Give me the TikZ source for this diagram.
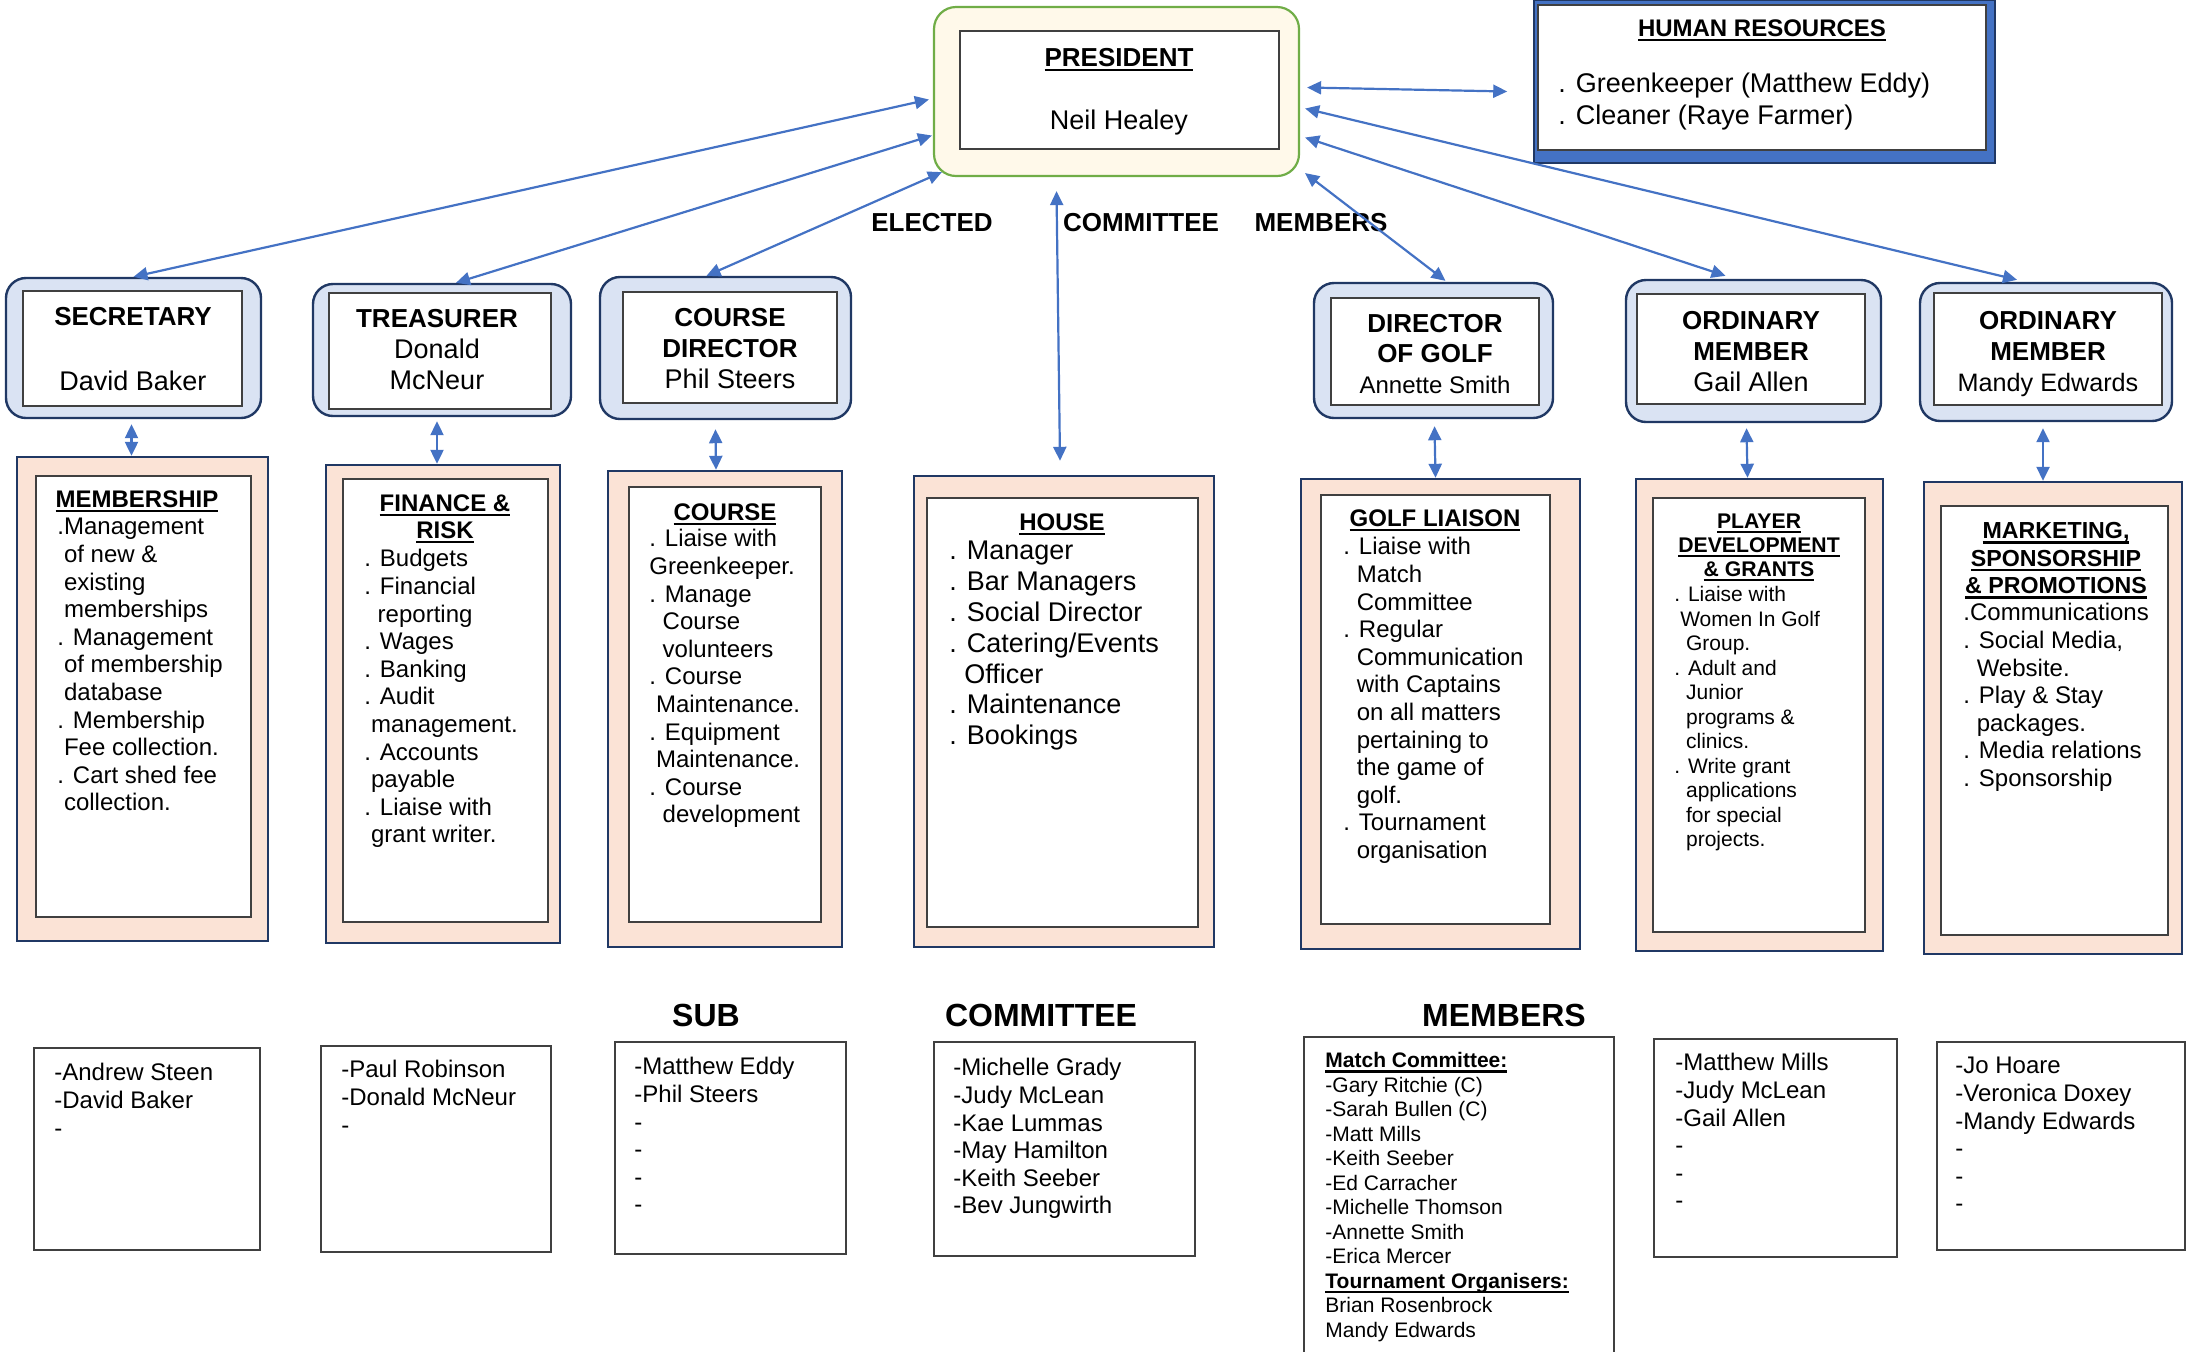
\documentclass[tikz,border=0pt]{standalone}
\usepackage{fontspec}
\setmainfont{Liberation Sans}
\usepackage{tikz}
\usetikzlibrary{arrows.meta,calc,fit}

\definecolor{arrowblue}{HTML}{4472C4}
\definecolor{navyline}{HTML}{203864}
\definecolor{tierblue}{HTML}{DAE3F3}
\definecolor{peach}{HTML}{FBE3D6}
\definecolor{presgreen}{HTML}{70AD47}
\definecolor{prescream}{HTML}{FFF9EA}
\definecolor{innergray}{HTML}{404040}

\newcommand{\fbody}{\fontsize{12}{13.8}\selectfont}
\newcommand{\fbig}{\fontsize{13.5}{15.5}\selectfont}
\newcommand{\fsmall}{\fontsize{10.5}{12.25}\selectfont}
\newcommand{\ftitle}{\fontsize{16}{19}\selectfont}
\newcommand{\fhr}{\fontsize{13.5}{16}\selectfont}
\newcommand{\fhouse}{\fontsize{13.5}{15.4}\selectfont}
\newcommand{\fmkt}{\fontsize{11.6}{13.75}\selectfont}
\newcommand{\fpos}{\fontsize{13}{15.5}\selectfont\bfseries}
\newcommand{\hul}[1]{\setbox0=\hbox{#1}\leavevmode\rlap{\rule[-2.6pt]{\wd0}{1.3pt}}\box0}
\newcommand{\dotin}{\hphantom{.}}
\newcommand{\dotsp}{\hphantom{.\ }}

\begin{document}
\begin{tikzpicture}[x=0.5pt, y=-0.5pt,
		pres_style/.style={draw=presgreen,line width=1.1pt,fill=prescream,rounded corners=11pt,inner sep=0pt},
		hr_style/.style={draw=navyline,line width=0.8pt,fill=arrowblue,inner sep=0pt},
		tier_style/.style={draw=navyline,line width=1.2pt,fill=tierblue,rounded corners=10pt,inner sep=0pt},
		group_style/.style={draw=navyline,line width=1.2pt,fill=peach,inner sep=0pt},
		inner_style/.style={draw=innergray,line width=0.8pt,fill=white,inner sep=0pt},
		list_style/.style={draw=innergray,line width=0.8pt,fill=white,inner sep=0pt},
		text_style/.style={anchor=north west,align=left,inner sep=0pt,font=\fbody},
		head_style/.style={anchor=north,align=center,inner sep=0pt,font=\fbody\bfseries},
		label_style/.style={anchor=base,inner sep=0pt,font=\fontsize{13}{15}\selectfont\bfseries},
		arrow_style/.style={{Triangle[length=7pt,width=6.5pt]}-{Triangle[length=7pt,width=6.5pt]},draw=arrowblue,line width=1.1pt}]

		\useasboundingbox (0,0) rectangle (2187,1351);

		% president and human resources
		\node[pres_style, fit={(934,7) (1299,176)}] (n_pres) {};
		\node[inner_style, fit={(960,31) (1279,149)}] (n_pres_in) {};
		\node[anchor=base, font=\fpos] (t_pres) at (1119,66) {\hul{PRESIDENT}};
		\node[anchor=base, font=\fbig] (t_neil) at (1119,129) {Neil Healey};

		\node[hr_style, fit={(1534,0) (1995,163)}] (n_hr) {};
		\node[inner_style, fit={(1538,5) (1986,150)}] (n_hr_in) {};
		\node[anchor=base, font=\fbody\bfseries] (t_hr) at (1762,36) {\hul{HUMAN RESOURCES}};
		\node[text_style, font=\fhr] (t_hr_list) at (1558,73) {. Greenkeeper (Matthew Eddy)\\. Cleaner (Raye Farmer)};

		% committee positions
		\node[tier_style, fit={(6,278) (261,418)}] (n_sec) {};
		\node[inner_style, fit={(23,291) (242,406)}] (n_sec_in) {};
		\node[head_style, font=\fbig] (t_sec) at (133,307) {{\fpos SECRETARY}\\[17pt]David Baker};

		\node[tier_style, fit={(313,284) (571,416)}] (n_tre) {};
		\node[inner_style, fit={(329,293) (551,409)}] (n_tre_in) {};
		\node[head_style, font=\fbig] (t_tre) at (437,309) {{\fpos TREASURER}\\Donald\\McNeur};

		\node[tier_style, fit={(600,277) (851,419)}] (n_cd) {};
		\node[inner_style, fit={(623,292) (837,403)}] (n_cd_in) {};
		\node[head_style, font=\fbig] (t_cd) at (730,308) {{\fpos COURSE}\\{\fpos DIRECTOR}\\Phil Steers};

		\node[tier_style, fit={(1314,283) (1553,418)}] (n_dog) {};
		\node[inner_style, fit={(1331,298) (1539,405)}] (n_dog_in) {};
		\node[head_style, font=\fontsize{13}{15.2}\selectfont] (t_dog) at (1435,314) {\textbf{DIRECTOR}\\\textbf{OF GOLF}\\{\fontsize{12}{15.2}\selectfont Annette Smith}};

		\node[tier_style, fit={(1626,280) (1881,422)}] (n_om1) {};
		\node[inner_style, fit={(1637,294) (1865,404)}] (n_om1_in) {};
		\node[head_style, font=\fbig] (t_om1) at (1751,311) {{\fpos ORDINARY}\\{\fpos MEMBER}\\Gail Allen};

		\node[tier_style, fit={(1920,283) (2172,421)}] (n_om2) {};
		\node[inner_style, fit={(1934,293) (2162,405)}] (n_om2_in) {};
		\node[head_style, font=\fbig] (t_om2) at (2048,311) {{\fpos ORDINARY}\\{\fpos MEMBER}\\{\fontsize{12.6}{15.5}\selectfont Mandy Edwards}};

		% portfolios
		\node[group_style, fit={(17,457) (268,941)}] (n_mem) {};
		\node[inner_style, fit={(36,476) (251,917)}] (n_mem_in) {};
		\node[head_style] (t_mem) at (137,490) {\hul{MEMBERSHIP}};
		\node[text_style] (t_mem_list) at (57,518) {.Management\\\dotin of new \&\\\dotin existing\\\dotin memberships\\. Management\\\dotin of membership\\\dotin database\\. Membership\\\dotin Fee collection.\\. Cart shed fee\\\dotin collection.};

		\node[group_style, fit={(326,465) (560,943)}] (n_fin) {};
		\node[inner_style, fit={(343,479) (548,922)}] (n_fin_in) {};
		\node[head_style, font=\fontsize{12}{13.5}\selectfont\bfseries] (t_fin) at (445,494) {\hul{FINANCE \&}\\\hul{RISK}};
		\node[text_style] (t_fin_list) at (364,549) {. Budgets\\. Financial\\\dotsp reporting\\. Wages\\. Banking\\. Audit\\\dotin management.\\. Accounts\\\dotin payable\\. Liaise with\\\dotin grant writer.};

		\node[group_style, fit={(608,471) (842,947)}] (n_cou) {};
		\node[inner_style, fit={(629,487) (821,922)}] (n_cou_in) {};
		\node[head_style] (t_cou) at (725,503) {\hul{COURSE}};
		\node[text_style] (t_cou_list) at (649,529) {. Liaise with\\Greenkeeper.\\. Manage\\\dotsp Course\\\dotsp volunteers\\. Course\\\dotin Maintenance.\\. Equipment\\\dotin Maintenance.\\. Course\\\dotsp development};

		\node[group_style, fit={(914,476) (1214,947)}] (n_hou) {};
		\node[inner_style, fit={(927,498) (1198,927)}] (n_hou_in) {};
		\node[head_style] (t_hou) at (1062,513) {\hul{HOUSE}};
		\node[text_style, font=\fhouse] (t_hou_list) at (949,541) {. Manager\\. Bar Managers\\. Social Director\\. Catering/Events\\\dotsp Officer\\. Maintenance\\. Bookings};

		\node[group_style, fit={(1301,479) (1580,949)}] (n_gli) {};
		\node[inner_style, fit={(1321,495) (1550,924)}] (n_gli_in) {};
		\node[head_style] (t_gli) at (1435,509) {\hul{GOLF LIAISON}};
		\node[text_style] (t_gli_list) at (1343,537) {. Liaise with\\\dotsp Match\\\dotsp Committee\\. Regular\\\dotsp Communication\\\dotsp with Captains\\\dotsp on all matters\\\dotsp pertaining to\\\dotsp the game of\\\dotsp golf.\\. Tournament\\\dotsp organisation};

		\node[group_style, fit={(1636,479) (1883,951)}] (n_pld) {};
		\node[inner_style, fit={(1653,498) (1865,932)}] (n_pld_in) {};
		\node[head_style, font=\fontsize{10.6}{12}\selectfont\bfseries] (t_pld) at (1759,513) {\hul{PLAYER}\\\hul{DEVELOPMENT}\\\hul{\& GRANTS}};
		\node[text_style, font=\fsmall] (t_pld_list) at (1674,586) {. Liaise with\\\dotin Women In Golf\\\dotsp Group.\\. Adult and\\\dotsp Junior\\\dotsp programs \&\\\dotsp clinics.\\. Write grant\\\dotsp applications\\\dotsp for special\\\dotsp projects.};

		\node[group_style, fit={(1924,482) (2182,954)}] (n_mkt) {};
		\node[inner_style, fit={(1941,506) (2168,935)}] (n_mkt_in) {};
		\node[head_style, font=\fmkt\bfseries] (t_mkt) at (2056,522) {\hul{MARKETING,}\\\hul{SPONSORSHIP}\\\hul{\& PROMOTIONS}};
		\node[text_style] (t_mkt_list) at (1963,603) {.Communications\\. Social Media,\\\dotsp Website.\\. Play \& Stay\\\dotsp packages.\\. Media relations\\. Sponsorship};

		% sub committee members
		\node[anchor=base, font=\ftitle\bfseries] (t_sub) at (706,1026) {SUB};
		\node[anchor=base, font=\ftitle\bfseries] (t_subcom) at (1041,1026) {COMMITTEE};
		\node[anchor=base, font=\ftitle\bfseries] (t_submem) at (1504,1026) {MEMBERS};

		\node[list_style, fit={(34,1048) (260,1250)}] (n_b1) {};
		\node[text_style] (t_b1) at (54,1063) {-Andrew Steen\\-David Baker\\-};
		\node[list_style, fit={(321,1046) (551,1252)}] (n_b2) {};
		\node[text_style] (t_b2) at (341,1060) {-Paul Robinson\\-Donald McNeur\\-};
		\node[list_style, fit={(615,1042) (846,1254)}] (n_b3) {};
		\node[text_style] (t_b3) at (634,1057) {-Matthew Eddy\\-Phil Steers\\-\\-\\-\\-};
		\node[list_style, fit={(934,1042) (1195,1256)}] (n_b4) {};
		\node[text_style] (t_b4) at (953,1058) {-Michelle Grady\\-Judy McLean\\-Kae Lummas\\-May Hamilton\\-Keith Seeber\\-Bev Jungwirth};
		\node[list_style, fit={(1304,1037) (1614,1372)}] (n_b5) {};
		\node[text_style, font=\fsmall] (t_b5) at (1325,1052) {\hul{\textbf{Match Committee:}}\\-Gary Ritchie (C)\\-Sarah Bullen (C)\\-Matt Mills\\-Keith Seeber\\-Ed Carracher\\-Michelle Thomson\\-Annette Smith\\-Erica Mercer\\\hul{\textbf{Tournament Organisers:}}\\Brian Rosenbrock\\Mandy Edwards};
		\node[list_style, fit={(1654,1039) (1897,1257)}] (n_b6) {};
		\node[text_style] (t_b6) at (1675,1053) {-Matthew Mills\\-Judy McLean\\-Gail Allen\\-\\-\\-};
		\node[list_style, fit={(1937,1042) (2185,1250)}] (n_b7) {};
		\node[text_style] (t_b7) at (1955,1057) {-Jo Hoare\\-Veronica Doxey\\-Mandy Edwards\\-\\-\\-};

		% labels
		\node[label_style] (t_elected) at (932,231) {ELECTED};
		\node[label_style] (t_committee) at (1141,231) {COMMITTEE};
		\node[label_style] (t_members) at (1321,231) {MEMBERS};

		% connectors
		\draw[arrow_style] ($(n_pres.west)+(-4,8)$) -- (n_sec.north);
		\draw[arrow_style] ($(n_pres.west)+(-1,44)$) -- ($(n_tre.north)+(14,0)$);
		\draw[arrow_style] ($(n_pres.south west)+(9,-5)$) -- ($(n_cd.north)+(-19,0)$);
		\draw[arrow_style] ($(n_pres.south)+(-60,14)$) -- ($(n_hou.north)+(-4,-14)$);
		\draw[arrow_style] ($(n_pres.south east)+(5,-4)$) -- ($(n_dog.north)+(12,-1)$);
		\draw[arrow_style] ($(n_pres.east)+(5,46)$) -- ($(n_om1.north)+(-28,-3)$);
		\draw[arrow_style] ($(n_pres.east)+(5,17)$) -- ($(n_om2.north)+(-29,-2)$);
		\draw[arrow_style] ($(n_pres.east)+(7,-4)$) -- ($(n_hr.west)+(-26,10)$);

		\draw[arrow_style] ($(n_sec.south)+(-2,5)$) -- ($(n_mem.north)+(-11,0)$);
		\draw[arrow_style] ($(n_tre.south)+(-5,4)$) -- ($(n_fin.north)+(-6,0)$);
		\draw[arrow_style] ($(n_cd.south)+(-10,9)$) -- ($(n_cou.north)+(-9,0)$);
		\draw[arrow_style] ($(n_dog.south)+(1,7)$) -- ($(n_gli.north)+(-5,0)$);
		\draw[arrow_style] ($(n_om1.south)+(-7,5)$) -- ($(n_pld.north)+(-12,0)$);
		\draw[arrow_style] ($(n_om2.south)+(-3,6)$) -- ($(n_mkt.north)+(-10,0)$);

\end{tikzpicture}
\end{document}
